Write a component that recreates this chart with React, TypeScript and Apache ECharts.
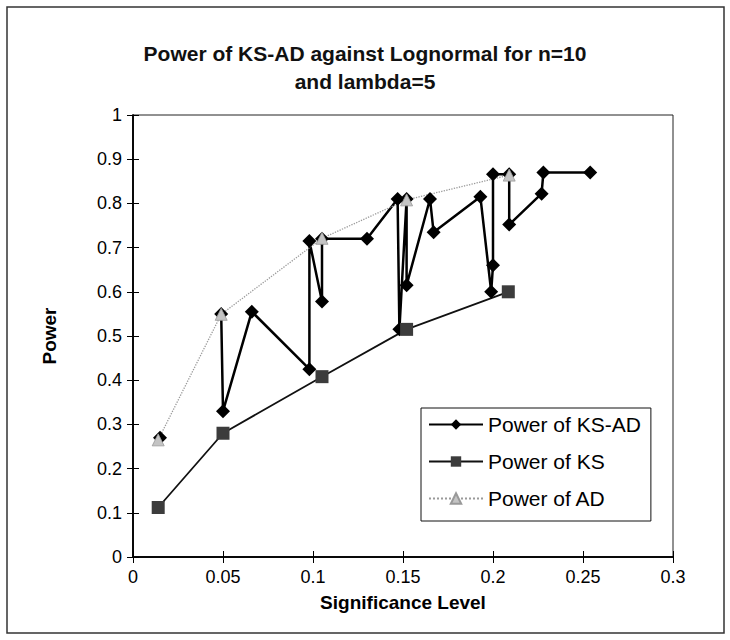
import React, { useEffect, useRef } from "react";
import * as echarts from "echarts";

const TITLE = "Power of KS-AD against Lognormal for n=10\nand lambda=5";
const X_NAME = "Significance Level";
const Y_NAME = "Power";
const SERIES_NAMES = ["Power of KS-AD", "Power of KS", "Power of AD"];

// Power of KS-AD (null = gap in the line)
const KSAD_X = [0.015, 0.03, 0.049, 0.05, 0.066, 0.098, 0.098, 0.105, 0.105, 0.13, 0.147, 0.148, 0.152, 0.152, 0.165, 0.167, 0.193, 0.199, 0.2, 0.2, 0.209, 0.209, 0.227, 0.228, 0.254];
const KSAD_Y = [0.27, null, 0.55, 0.33, 0.555, 0.425, 0.715, 0.578, 0.72, 0.72, 0.81, 0.515, 0.81, 0.615, 0.81, 0.735, 0.815, 0.6, 0.66, 0.866, 0.866, 0.752, 0.822, 0.87, 0.87];

// Power of KS
const KS_X = [0.014, 0.05, 0.105, 0.152, 0.2085];
const KS_Y = [0.112, 0.28, 0.408, 0.515, 0.6];

// Power of AD
const AD_X = [0.014, 0.049, 0.105, 0.152, 0.209];
const AD_Y = [0.265, 0.549, 0.721, 0.808, 0.864];

const FONT = "'Liberation Sans', Arial, sans-serif";

function pairs(xs: number[], ys: (number | null)[]) {
  return xs.map((x, i) => (ys[i] == null ? [x, "-"] : [x, ys[i]]));
}

export default function App() {
  const ref = useRef<HTMLDivElement>(null);
  useEffect(() => {
    if (!ref.current) return;
    const chart = echarts.init(ref.current, null, { renderer: "svg" });
    const axisCommon = {
      type: "value" as const,
      axisLine: { show: true, lineStyle: { color: "#000", width: 1.5 } },
      splitLine: { show: false },
    };
    chart.setOption({
      animation: false,
      backgroundColor: "#fff",
      textStyle: { fontFamily: FONT },
      title: {
        text: TITLE,
        left: "center",
        top: 34,
        textStyle: { fontSize: 21, fontWeight: "bold", color: "#111", lineHeight: 28, fontFamily: FONT },
      },
      grid: {
        left: 133,
        right: 57,
        top: 115,
        bottom: 83,
        show: true,
        borderColor: "#222",
        borderWidth: 1,
      },
      legend: {
        orient: "vertical",
        left: 421,
        top: 408,
        borderColor: "#111",
        borderWidth: 1,
        padding: [6, 10, 12, 7],
        itemGap: 16,
        itemWidth: 54,
        itemHeight: 13,
        textStyle: { fontSize: 21, color: "#000", fontFamily: FONT },
        data: SERIES_NAMES,
      },
      graphic: [
        {
          type: "rect",
          shape: { x: 7, y: 7, width: 717, height: 626 },
          style: { fill: "none", stroke: "#333", lineWidth: 1.5 },
          silent: true,
        },
      ],
      xAxis: [
        {
          ...axisCommon,
          min: 0,
          max: 0.3,
          interval: 0.05,
          name: X_NAME,
          nameLocation: "middle",
          nameGap: 36,
          nameTextStyle: { fontSize: 19, fontWeight: "bold", color: "#000", fontFamily: FONT },
          axisTick: { show: true, length: 6, lineStyle: { color: "#000" } },
          axisLabel: { fontSize: 18, color: "#000", margin: 11, fontFamily: FONT },
        },
        {
          ...axisCommon,
          position: "bottom",
          min: 0,
          max: 0.3,
          interval: 0.05,
          axisTick: { show: true, inside: true, length: 6, lineStyle: { color: "#000" } },
          axisLabel: { show: false },
        },
      ],
      yAxis: [
        {
          ...axisCommon,
          min: 0,
          max: 1,
          interval: 0.1,
          name: Y_NAME,
          nameLocation: "middle",
          nameGap: 74,
          nameTextStyle: { fontSize: 19, fontWeight: "bold", color: "#000", fontFamily: FONT },
          axisTick: { show: true, length: 6, lineStyle: { color: "#000" } },
          axisLabel: { fontSize: 18, color: "#000", margin: 11, fontFamily: FONT },
        },
        {
          ...axisCommon,
          position: "left",
          min: 0,
          max: 1,
          interval: 0.1,
          axisTick: { show: true, inside: true, length: 6, lineStyle: { color: "#000" } },
          axisLabel: { show: false },
        },
      ],
      series: [
        {
          name: SERIES_NAMES[0],
          type: "line",
          data: pairs(KSAD_X, KSAD_Y),
          connectNulls: false,
          symbol: "diamond",
          symbolSize: 14,
          itemStyle: { color: "#000" },
          lineStyle: { color: "#000", width: 2.5 },
        },
        {
          name: SERIES_NAMES[1],
          type: "line",
          data: pairs(KS_X, KS_Y),
          symbol: "rect",
          symbolSize: 13,
          itemStyle: { color: "#3c3c3c" },
          lineStyle: { color: "#111", width: 1.8 },
        },
        {
          name: SERIES_NAMES[2],
          type: "line",
          data: pairs(AD_X, AD_Y),
          symbol: "triangle",
          symbolSize: 12,
          itemStyle: { color: "#c4c4c4", borderColor: "#999", borderWidth: 0.8 },
          lineStyle: { color: "#9a9a9a", width: 1.3, type: "dotted" },
        },
      ],
    });
    return () => chart.dispose();
  }, []);
  return (
    <div
      ref={ref}
      style={{ position: "fixed", left: 0, top: 0, width: 730, height: 640 }}
    />
  );
}
